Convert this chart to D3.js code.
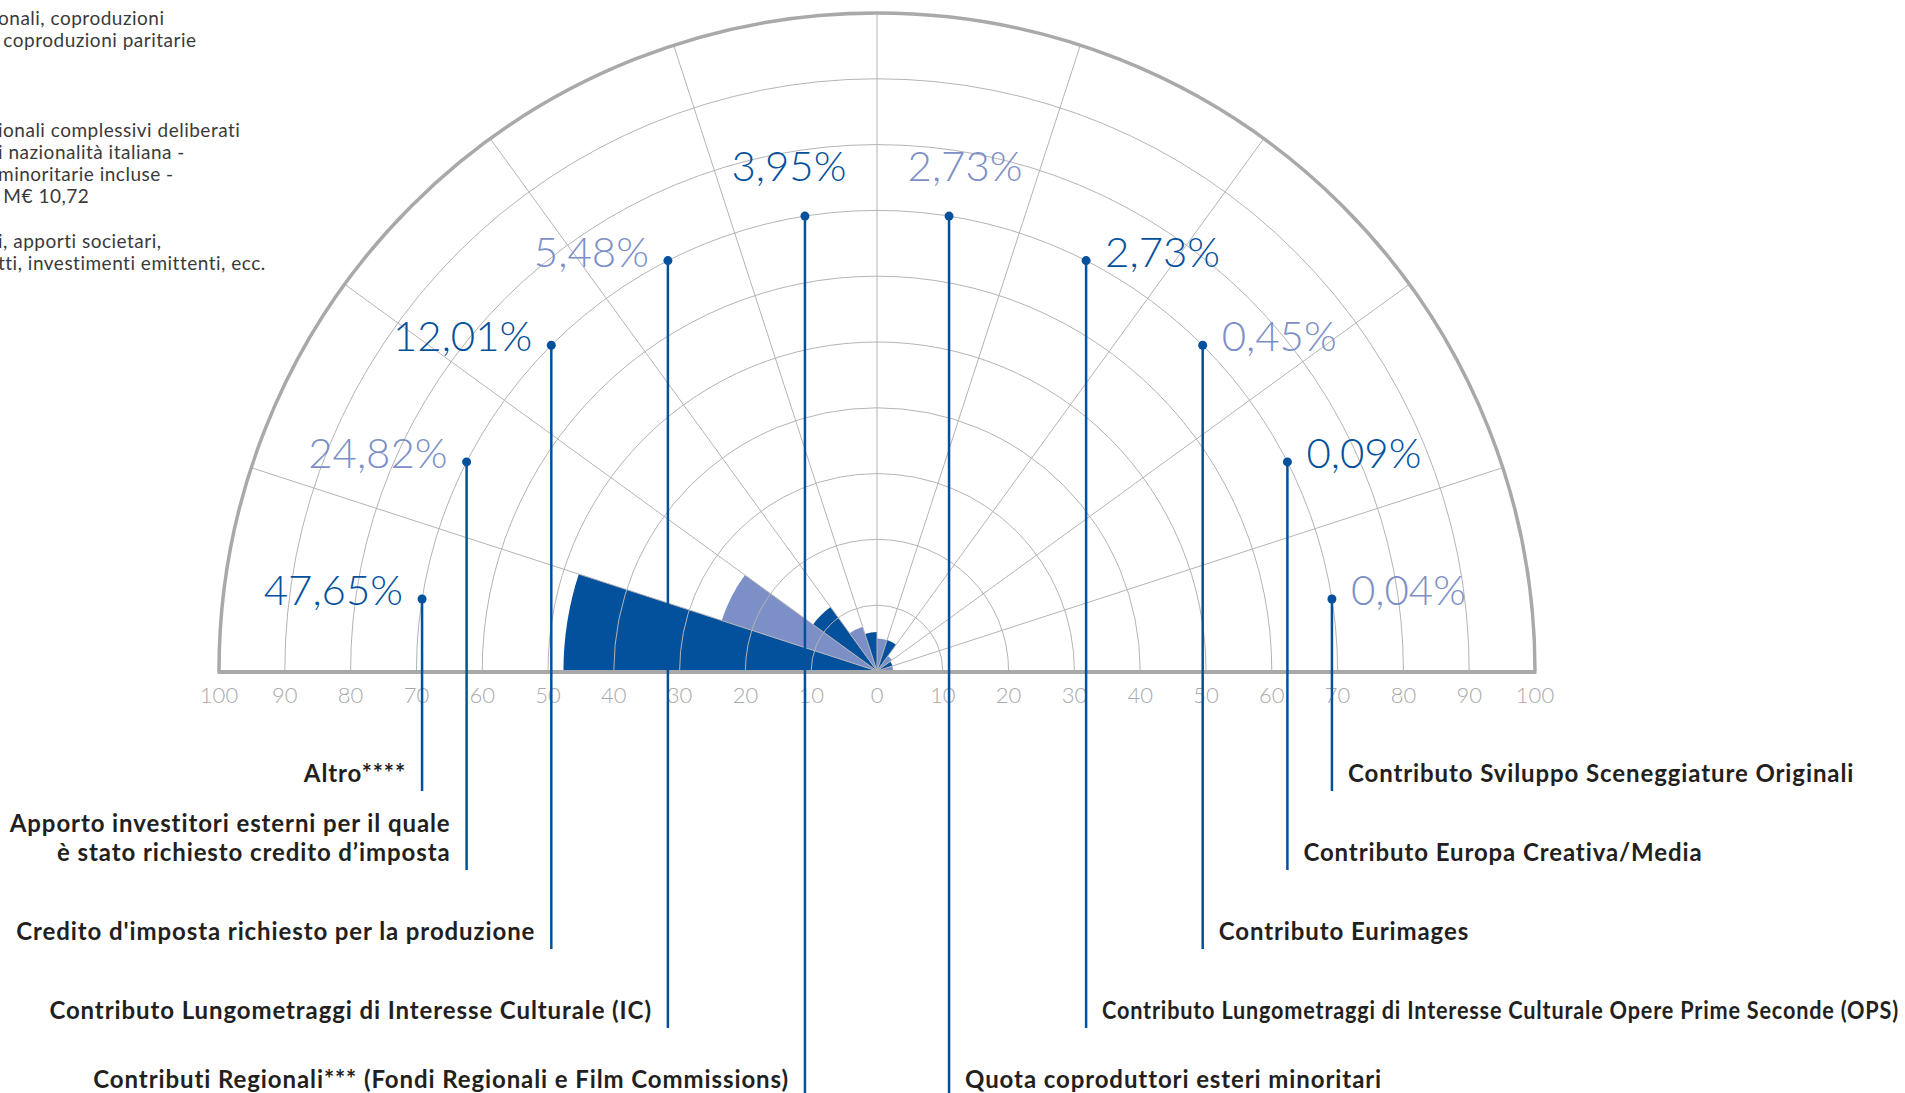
<!DOCTYPE html>
<html>
<head>
<meta charset="utf-8">
<script src="https://cdn.jsdelivr.net/npm/d3@7"></script>
<style>
  body { margin: 0; background: #fff; }
  svg { display: block; }
  .tick-label { font-family: Lato, 'Open Sans', sans-serif; font-weight: 300; font-size: 22px; fill: #a9a9ab; }
  .share-label { font-family: Lato, 'Open Sans', sans-serif; font-weight: 300; font-size: 42px; }
  .category-label { font-family: Lato, 'Open Sans', sans-serif; font-weight: 700; font-size: 24px; letter-spacing: 0.9px; fill: #231f20; }
  .footnote { font-family: Lato, 'Open Sans', sans-serif; font-size: 19px; letter-spacing: 0.5px; fill: #3a3a3a; white-space: pre; }
</style>
</head>
<body>
<div id="chart"></div>
<script>
// Categories, clockwise from the left end of the half circle
const categories = [
    'Altro****',
    'Apporto investitori esterni per il quale\nè stato richiesto credito d’imposta',
    "Credito d'imposta richiesto per la produzione",
    'Contributo Lungometraggi di Interesse Culturale (IC)',
    'Contributi Regionali*** (Fondi Regionali e Film Commissions)',
    'Quota coproduttori esteri minoritari',
    'Contributo Lungometraggi di Interesse Culturale Opere Prime Seconde (OPS)',
    'Contributo Eurimages',
    'Contributo Europa Creativa/Media',
    'Contributo Sviluppo Sceneggiature Originali'
];

// Share of total funding (%)
const shares = [47.65, 24.82, 12.01, 5.48, 3.95, 2.73, 2.73, 0.45, 0.09, 0.04];

// Axis tick values, shown on both sides of the centre
const axisTicks = [0, 10, 20, 30, 40, 50, 60, 70, 80, 90, 100];

// Footnote lines as far as they are visible (cut by the left edge)
const footnoteLines = [
    'onali, coproduzioni',
    ' coproduzioni paritarie',
    '',
    '',
    '',
    'ionali complessivi deliberati',
    'i nazionalità italiana -',
    'minoritarie incluse -',
    ' M€ 10,72',
    '',
    'i, apporti societari,',
    'tti, investimenti emittenti, ecc.'
];

const svgWidth = 1905;
const svgHeight = 1093;
const center = {x: 877, y: 671};
const outerRadius = 658;
const leaderRing = 70; // dots sit on this axis value
const tones = ['#03519d', '#7c8fc6'];
const gridColor = '#b4b4b6';
const frameColor = '#a9a9ab';

const locale = d3.formatLocale({decimal: ',', thousands: '.', grouping: [3], currency: ['€', '']});
const formatShare = v => locale.format('.2f')(v) + '%';

const data = categories.map((name, i) => ({name, value: shares[i], index: i}));

// Scales
const axisScale = d3.scaleLinear().domain([0, 100]).range([0, outerRadius]);
// Wedge lengths: the picture keeps the smallest shares visible, so low values get a floor
const wedgeScale = d3.scaleLinear()
    .domain([0, 3, 12, 100])
    .range([0.024, 0.052, 0.12, 1].map(f => f * outerRadius));
const angleScale = d3.scaleBand()
    .domain(categories)
    .range([-Math.PI / 2, Math.PI / 2]);
const bw = angleScale.bandwidth();
const midAngle = d => angleScale(d.name) + bw / 2;

// Category label rows (baselines), from the outer ends towards the middle
const rowScale = d3.scaleLinear().domain([0, 3, 4]).range([782, 1019, 1088]);

// Polar -> page coordinates (angle 0 at the top, clockwise)
const polar = (r, a) => [center.x + r * Math.sin(a), center.y - r * Math.cos(a)];

const svg = d3.select('#chart').append('svg')
    .attr('width', svgWidth)
    .attr('height', svgHeight);

const chart = svg.append('g')
    .attr('transform', 'translate(' + center.x + ',' + center.y + ')');

// Wedges
const arc = d3.arc()
    .innerRadius(0)
    .outerRadius(d => wedgeScale(d.value))
    .startAngle(d => angleScale(d.name))
    .endAngle(d => angleScale(d.name) + bw);

chart.selectAll('path.wedge')
    .data(data)
    .enter()
    .append('path')
        .attr('class', 'wedge')
        .attr('d', arc)
        .attr('fill', d => tones[d.index % 2]);

// Concentric grid arcs
const halfCircle = r => {
    const p = d3.path();
    p.moveTo(-r, 0);
    p.arc(0, 0, r, Math.PI, 2 * Math.PI);
    return p.toString();
};

chart.selectAll('path.grid-arc')
    .data(axisTicks.filter(v => v > 0 && v < 100))
    .enter()
    .append('path')
        .attr('class', 'grid-arc')
        .attr('d', v => halfCircle(axisScale(v)))
        .attr('fill', 'none')
        .attr('stroke', gridColor)
        .attr('stroke-width', 1);

// Radial grid lines on the wedge boundaries
chart.selectAll('line.grid-ray')
    .data(categories.slice(1))
    .enter()
    .append('line')
        .attr('class', 'grid-ray')
        .attr('x1', 0)
        .attr('y1', 0)
        .attr('x2', name => outerRadius * Math.sin(angleScale(name)))
        .attr('y2', name => -outerRadius * Math.cos(angleScale(name)))
        .attr('stroke', gridColor)
        .attr('stroke-width', 1);

// Outer frame and base line
chart.append('path')
    .attr('d', halfCircle(outerRadius))
    .attr('fill', 'none')
    .attr('stroke', frameColor)
    .attr('stroke-width', 3.5);

chart.append('line')
    .attr('x1', -outerRadius - 1.5)
    .attr('x2', outerRadius + 1.5)
    .attr('y1', 1)
    .attr('y2', 1)
    .attr('stroke', frameColor)
    .attr('stroke-width', 4);

// Tick labels on both halves of the base line
const tickPositions = axisTicks.flatMap(v => v === 0 ? [{v, x: 0}] : [{v, x: -axisScale(v)}, {v, x: axisScale(v)}]);
chart.selectAll('text.tick-label')
    .data(tickPositions)
    .enter()
    .append('text')
        .attr('class', 'tick-label')
        .attr('x', d => d.x)
        .attr('y', 32)
        .attr('text-anchor', 'middle')
        .text(d => d.v);

// Leader lines, dots and labels
const leaders = svg.append('g').attr('class', 'leaders');

data.forEach(d => {
    const a = midAngle(d);
    const [px, py] = polar(axisScale(leaderRing), a);
    const side = Math.sin(a) < 0 ? -1 : 1;
    const level = d.index < 5 ? d.index : categories.length - 1 - d.index;
    const rowY = rowScale(level);

    leaders.append('line')
        .attr('x1', px)
        .attr('x2', px)
        .attr('y1', py)
        .attr('y2', rowY + 9)
        .attr('stroke', tones[0])
        .attr('stroke-width', 2.5);

    leaders.append('circle')
        .attr('cx', px)
        .attr('cy', py)
        .attr('r', 4.5)
        .attr('fill', tones[0]);

    // Percentage label: above the dot near the top, beside it elsewhere
    const nearTop = Math.abs(Math.sin(a)) < 0.2;
    leaders.append('text')
        .attr('class', 'share-label')
        .attr('x', nearTop ? px + side * 16 : px + side * 19)
        .attr('y', nearTop ? py - 35 : py + 6)
        .attr('text-anchor', nearTop ? 'middle' : (side < 0 ? 'end' : 'start'))
        .attr('fill', tones[d.index % 2])
        .text(formatShare(d.value));

    // Category label at the foot of the leader line
    const lines = d.name.split('\n');
    const label = leaders.append('text')
        .attr('class', 'category-label')
        .attr('text-anchor', side < 0 ? 'end' : 'start');
    const labelX = px + side * 16;
    lines.forEach((line, k) => {
        const tspan = label.append('tspan')
            .attr('x', labelX)
            .attr('y', rowY - (lines.length - 1 - k) * 29)
            .text(line);
        // Squeeze a line that would run past the page edge
        const room = side < 0 ? labelX - 6 : svgWidth - 6 - labelX;
        const len = tspan.node().getComputedTextLength();
        if (len > room) {
            tspan.attr('textLength', room).attr('lengthAdjust', 'spacingAndGlyphs');
        }
    });
});

// Footnotes, top left
svg.append('g').selectAll('text.footnote')
    .data(footnoteLines)
    .enter()
    .append('text')
        .attr('class', 'footnote')
        .attr('x', -2)
        .attr('y', (d, i) => 25 + i * 22.3)
        .text(d => d);
</script>
</body>
</html>
